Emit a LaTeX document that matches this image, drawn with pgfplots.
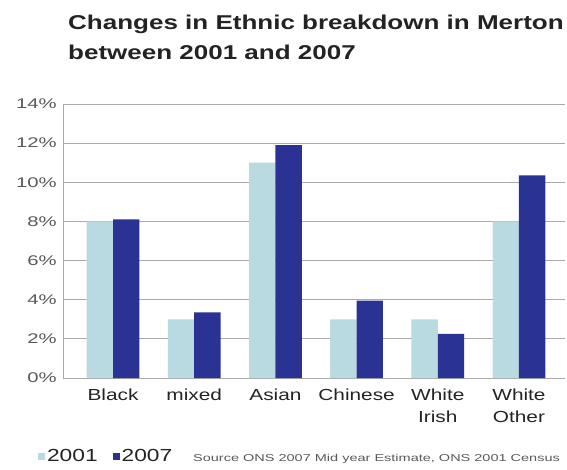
\documentclass[border=0pt]{standalone}
\usepackage{pgfplots}
\pgfplotsset{compat=1.18}
\usepackage{fontspec}
\setmainfont{Liberation Sans}
\newfontfamily\sfA{Liberation Sans}[FakeStretch=1.3]
\newfontfamily\sfB{Liberation Sans}[FakeStretch=1.45]
\definecolor{cLight}{RGB}{184,218,224}
\definecolor{cDark}{RGB}{42,50,148}
\definecolor{cGrid}{RGB}{170,170,170}
\definecolor{cText}{RGB}{35,35,35}
\begin{document}
\begin{tikzpicture}[x=1pt,y=1pt]
\useasboundingbox (0,0) rectangle (567,469);
\begin{axis}[
  at={(63pt,91pt)}, anchor=south west,
  scale only axis, width=502pt, height=274pt,
  xmin=-0.616, xmax=5.567, ymin=0, ymax=14,
  ybar, bar width=0.325,
  xtick={0,...,5},
  xticklabels={Black,mixed,Asian,Chinese,{White\\Irish},{White\\Other}},
  ytick={0,2,...,14},
  yticklabel={\pgfmathprintnumber{\tick}\%},
  ymajorgrids, grid style={draw=cGrid, line width=0.8pt},
  axis x line*=bottom, axis y line*=left,
  axis line style={draw=cGrid, line width=0.8pt, -},
  major tick length=0pt,
  /pgf/number format/assume math mode=true,
  x tick label style={font=\sfA\fontsize{16}{22}\selectfont, align=center, anchor=north, inner sep=0pt, yshift=-11pt, text=cText},
  y tick label style={font=\sfB\fontsize{14}{16}\selectfont, anchor=east, inner sep=0pt, xshift=-6pt, text=black!65},
  legend columns=-1,
  legend style={at={(-0.056,-0.2865)}, anchor=west, draw=none, fill=none, font=\sfA\fontsize{17.5}{19}\selectfont, text=cText, /tikz/every even column/.append style={column sep=13pt}},
  legend image code/.code={\fill[#1] (0pt,-3.5pt) rectangle (7pt,3.5pt);},
]
\addplot[fill=cLight, draw=none, bar shift=-0.1625] coordinates {(0,8.0) (1,3.0) (2,11.0) (3,3.0) (4,3.0) (5,8.0)};
\addplot[fill=cDark, draw=none, bar shift=0.1625] coordinates {(0,8.1) (1,3.35) (2,11.9) (3,3.95) (4,2.25) (5,10.35)};
\legend{2001,2007}
\end{axis}
\node[anchor=base west, inner sep=0pt, font=\sfA\bfseries\fontsize{20}{30}\selectfont, text=cText] at (68,439) {Changes in Ethnic breakdown in Merton};
\node[anchor=base west, inner sep=0pt, font=\sfA\bfseries\fontsize{20}{30}\selectfont, text=cText] at (68,409) {between 2001 and 2007};
\node[anchor=base west, inner sep=0pt, font=\sfB\fontsize{10}{12}\selectfont, text=black!65] at (193,8) {Source ONS 2007 Mid year Estimate, ONS 2001 Census};
\end{tikzpicture}
\end{document}
